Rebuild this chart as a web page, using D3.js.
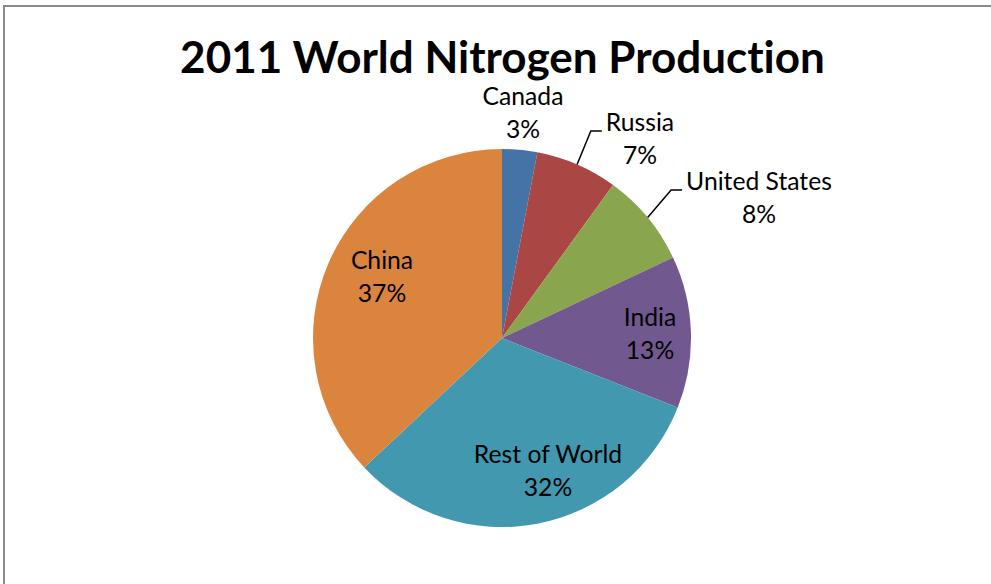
<!DOCTYPE html>
<html><head><meta charset="utf-8">
<script src="https://cdn.jsdelivr.net/npm/d3@7"></script>
<style>body{margin:0;background:#fff;overflow:hidden} text{font-variant-ligatures:none;font-feature-settings:"liga" 0,"dlig" 0}</style>
</head><body>
<svg id="c" width="991" height="584"></svg>
<script>
const title = "2011 World Nitrogen Production";
const categories = ["Canada","Russia","United States","India","Rest of World","China"];
const values = [3,7,8,13,32,37];
const colors = ["#4572A7","#AA4643","#89A54E","#71588F","#4198AF","#DB843D"];
// label layout (center x, first-line baseline) and whether a leader line is drawn
const labelAnchors = [[523,105],[640,131],[759,190],[650,326],[548,463],[382,269]];
const hasLeader = [false,true,true,false,false,false];

const W = 991, H = 584;
const cx = 502, cy = 338, R = 189;
const font = "Lato, 'Open Sans', sans-serif";
const svg = d3.select("#c");

// frame (top + left visible)
svg.append("path").attr("d", `M4,${H} V6 H${W}`)
  .attr("fill","none").attr("stroke","#8a8a8a").attr("stroke-width",2);

svg.append("text").attr("x", 502.5).attr("y", 73)
  .attr("text-anchor","middle").attr("font-family",font)
  .attr("font-weight","bold").attr("font-size",44).attr("fill","#000")
  .text(title);

const total = d3.sum(values);
const pie = d3.pie().sort(null).value(d => d)(values);
const arc = d3.arc().innerRadius(0).outerRadius(R);
const g = svg.append("g").attr("transform",`translate(${cx},${cy})`);
g.selectAll("path.slice").data(pie).enter().append("path")
  .attr("class","slice").attr("d",arc)
  .attr("fill",(d,i)=>colors[i]);

const pct = d3.format(".0%");
const lineGap = 32.5;
pie.forEach((d,i)=>{
  const [lx,ly] = labelAnchors[i];
  const t = svg.append("text").attr("text-anchor","middle")
    .attr("font-family",font).attr("font-size",24.7).attr("fill","#000");
  const t1 = t.append("tspan").attr("x",lx).attr("y",ly).text(categories[i]);
  t.append("tspan").attr("x",lx).attr("y",ly+lineGap).text(pct(values[i]/total));
  if (hasLeader[i]) {
    const w = t1.node().getComputedTextLength();
    const left = lx - w/2;
    const a = (d.startAngle + d.endAngle)/2;
    const sx = cx + R*Math.sin(a), sy = cy - R*Math.cos(a);
    svg.append("path")
      .attr("d",`M${sx},${sy} L${left-15},${ly} H${left-4}`)
      .attr("fill","none").attr("stroke","#000").attr("stroke-width",1.5);
  }
});
</script>
</body></html>
